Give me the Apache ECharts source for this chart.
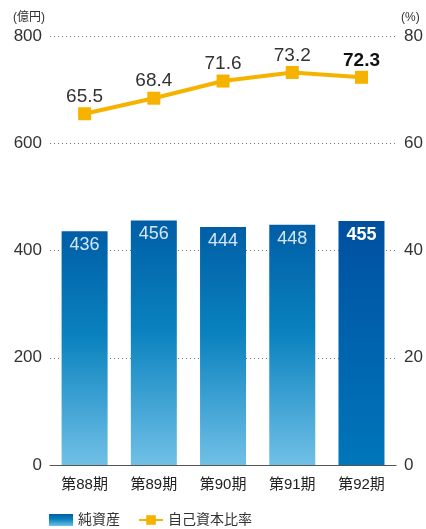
<!DOCTYPE html>
<html><head><meta charset="utf-8">
<script src="https://cdn.jsdelivr.net/npm/echarts@6/dist/echarts.min.js"></script>
<style>html,body{margin:0;padding:0;background:#fff}#c{width:426px;height:529px}</style>
</head><body><div id="c"></div>
<script>
var categories = ['第88期','第89期','第90期','第91期','第92期'];
var netAssets = [436, 456, 444, 448, 455];
var equityRatio = [65.5, 68.4, 71.6, 73.2, 72.3];
var leftTicks = [0, 200, 400, 600, 800];
var rightTicks = [0, 20, 40, 60, 80];

var font = '"Liberation Sans", Arial, "Noto Sans CJK JP", sans-serif';
var normalGrad = new echarts.graphic.LinearGradient(0,0,0,1,[
  {offset:0,color:'#005ea6'},{offset:0.45,color:'#0a82bf'},{offset:1,color:'#70c0e6'}]);
var lastGrad = new echarts.graphic.LinearGradient(0,0,0,1,[
  {offset:0,color:'#0050a0'},{offset:1,color:'#0076ba'}]);

var barData = netAssets.map(function(v,i){
  var last = i === netAssets.length-1;
  return {value:v, itemStyle:{color: last?lastGrad:normalGrad},
    label:{fontWeight: last?'bold':'normal', color: last?'#ffffff':'#d6e6f4'}};
});
var lineData = equityRatio.map(function(v,i){
  var last = i === equityRatio.length-1;
  return {value:v, label:{fontWeight: last?'bold':'normal', color: last?'#111':'#333'}};
});

var chart = echarts.init(document.getElementById('c'));
chart.setOption({
  animation:false,
  textStyle:{fontFamily:font},
  grid:{left:50,right:28,top:36,bottom:64},
  legend:{bottom:-3,left:44,itemGap:18,itemWidth:24,itemHeight:12,
    textStyle:{fontSize:14,color:'#333',fontFamily:font},
    data:[{name:'純資産',icon:'rect',itemStyle:{color:normalGrad}},{name:'自己資本比率'}]},
  xAxis:{type:'category',data:categories,
    axisLine:{lineStyle:{color:'#555',width:1}},axisTick:{show:false},
    axisLabel:{fontSize:15,color:'#222',margin:12}},
  yAxis:[
    {type:'value',min:0,max:800,interval:200,name:'(億円)',
      nameTextStyle:{fontSize:12,color:'#333',align:'left',padding:[0,0,0,-37]},
      nameGap:12,
      axisLabel:{fontSize:17,color:'#333',margin:8},
      axisLine:{show:false},axisTick:{show:false},
      splitLine:{lineStyle:{type:[1,3],color:'#777',width:1}}},
    {type:'value',min:0,max:80,interval:20,name:'(%)',
      nameTextStyle:{fontSize:12,color:'#333',align:'left',padding:[0,0,0,5]},
      nameGap:12,
      axisLabel:{fontSize:17,color:'#333',margin:8},
      axisLine:{show:false},axisTick:{show:false},splitLine:{show:false}}
  ],
  series:[
    {name:'純資産',type:'bar',data:barData,barWidth:46,
      label:{show:true,position:'insideTop',distance:5,fontSize:18,fontFamily:font}},
    {name:'自己資本比率',type:'line',yAxisIndex:1,data:lineData,
      symbol:'rect',symbolSize:13,
      lineStyle:{color:'#f5b300',width:4},itemStyle:{color:'#f5b300'},
      label:{show:true,position:'top',distance:1,fontSize:19,fontFamily:font}}
  ]
});
</script></body></html>
